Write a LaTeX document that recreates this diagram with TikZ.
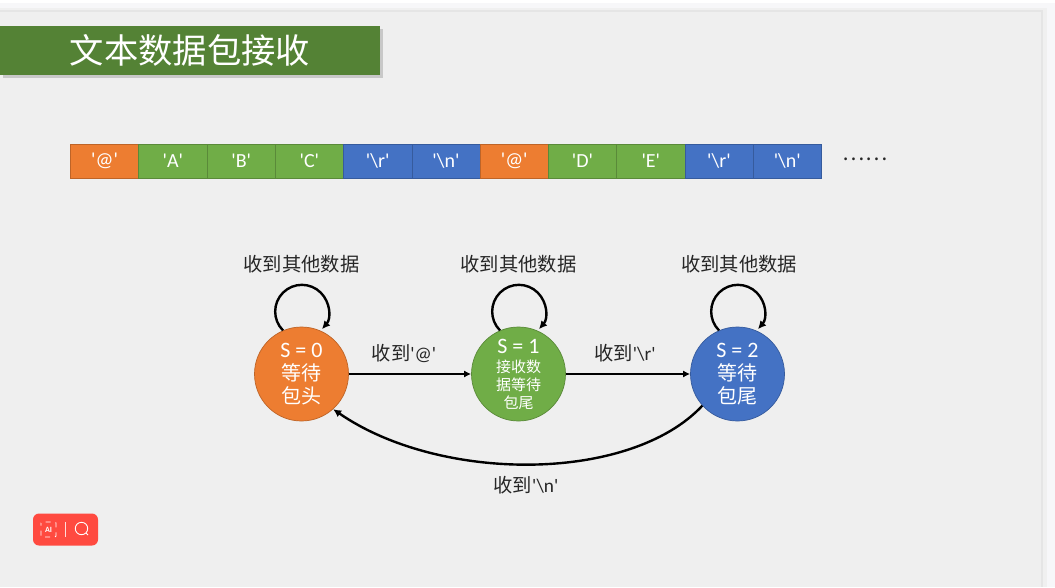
\documentclass[tikz,border=0pt]{standalone}
\usepackage{fontspec}
\setmainfont{Noto Sans CJK SC}
\newfontfamily\latinfont{Carlito}
\usetikzlibrary{arrows.meta,shadows}
\definecolor{slidebg}{HTML}{EFEFEF}
\definecolor{pagebg}{HTML}{F7F7F9}
\definecolor{titlegreen}{HTML}{548235}
\definecolor{cellorange}{HTML}{ED7D31}
\definecolor{cellgreen}{HTML}{70AD47}
\definecolor{cellblue}{HTML}{4472C4}
\definecolor{badgered}{HTML}{FF4A40}
\newcommand{\qt}[1]{{\latinfont\textquotesingle#1\textquotesingle}}
\newcommand{\statehead}[1]{{\fontsize{22}{22}\selectfont\latinfont S = #1}}
\tikzset{
  cell/.style={draw=#1!80!black,fill=#1,text=white,line width=0.6pt,minimum width=68.27pt,
    minimum height=34pt,inner sep=0pt,font=\fontsize{20}{20}\selectfont},
  state/.style={circle,draw=#1!80!black,fill=#1,text=white,line width=0.7pt,minimum size=94pt,
    inner sep=0pt,align=center,font=\fontsize{20}{23}\selectfont},
  smallstate/.style={state=#1,font=\fontsize{15}{18}\selectfont},
  lbl/.style={text=black!85,inner sep=0pt,font=\fontsize{19.3}{19.3}\selectfont},
  edge/.style={-{Latex[length=7pt,width=7pt]},line width=2pt,black},
  selfedge/.style={-{Latex[length=8pt,width=8pt]},line width=2.4pt,black},
}
\begin{document}
\begin{tikzpicture}[x=1pt,y=-1pt]
  \useasboundingbox (0,0) rectangle (1055,587);
  % page and slide
  \fill[pagebg] (0,0) rectangle (1055,587);
  \fill[white] (0,0) rectangle (1055,3);
  \fill[black!6] (0,8) rectangle (1047,587);
  \fill[black!10] (0,10) rectangle (1043,587);
  \fill[slidebg] (0,12) rectangle (1041,587);
  % title bar
  \node[fill=titlegreen,text=white,minimum width=380pt,minimum height=49pt,inner sep=0pt,
    drop shadow={shadow xshift=2.5pt,shadow yshift=-2.5pt,opacity=0.35},
    font=\fontsize{34.3}{34.3}\selectfont] (title) at (190,50.5) {文本数据包接收};
  % packet bytes
  \draw
    (104.6,161) node[cell=cellorange] (c0){\qt{@}}
    (172.9,161) node[cell=cellgreen] (c1){\qt{A}}
    (241.2,161) node[cell=cellgreen] (c2){\qt{B}}
    (309.4,161) node[cell=cellgreen] (c3){\qt{C}}
    (377.7,161) node[cell=cellblue] (c4){\qt{\textbackslash r}}
    (446.0,161) node[cell=cellblue] (c5){\qt{\textbackslash n}}
    (514.2,161) node[cell=cellorange] (c6){\qt{@}}
    (582.5,161) node[cell=cellgreen] (c7){\qt{D}}
    (650.8,161) node[cell=cellgreen] (c8){\qt{E}}
    (719.0,161) node[cell=cellblue] (c9){\qt{\textbackslash r}}
    (787.3,161) node[cell=cellblue] (c10){\qt{\textbackslash n}};
  \node[text=black!85,inner sep=0pt,font=\fontsize{21}{21}\selectfont] (more) at (865,159) {……};
  % states
  \draw
    (301.5,374) node[state=cellorange] (0){\statehead{0}\\等待\\包头}
    (518.5,374) node[smallstate=cellgreen] (1){\statehead{1}\\[1pt]接收数\\据等待\\包尾}
    (737.5,374) node[state=cellblue] (2){\statehead{2}\\等待\\包尾};
  % labels
  \node[lbl] (l0) at (301.5,264) {收到其他数据};
  \node[lbl] (l1) at (518.5,264) {收到其他数据};
  \node[lbl] (l2) at (739,264) {收到其他数据};
  \node[lbl] (l3) at (404,353) {收到\qt{@}};
  \node[lbl] (l4) at (625,353) {收到\qt{\textbackslash r}};
  \node[lbl] (l5) at (526,485) {收到\qt{\textbackslash n}};
  % transitions
  \begin{scope}
    \draw[selfedge] (0.113) arc (225:-41:26.7pt);
    \draw[selfedge] (1.113) arc (225:-41:26.7pt);
    \draw[selfedge] (2.113) arc (225:-41:26.7pt);
    \draw[edge] (0) to (1);
    \draw[edge] (1) to (2);
    \draw[selfedge] (2.222) .. controls (630,483) and (440,483) .. (0.-48);
  \end{scope}
  % badge
  \node[fill=badgered,rounded corners=6pt,minimum width=65pt,minimum height=32pt,inner sep=0pt] (badge) at (65.5,529.5) {};
  \node[text=white,inner sep=0pt,font=\fontsize{8}{8}\selectfont\latinfont\bfseries] (ai) at (48.5,529.5) {AI};
  \draw[white,line width=0.8pt,rounded corners=1pt,dash pattern=on 5pt off 5pt,dash phase=2.5pt] (ai.center) ++(-7.5,-7.5) rectangle ++(15,15);
  \draw[white!80!badgered,line width=0.7pt] (65,522) -- (65,537);
  \draw[white,line width=0.9pt] (81.5,528.5) circle (6.2pt);
  \draw[white,line width=0.9pt] (86,533) -- (88,535);
\end{tikzpicture}
\end{document}
